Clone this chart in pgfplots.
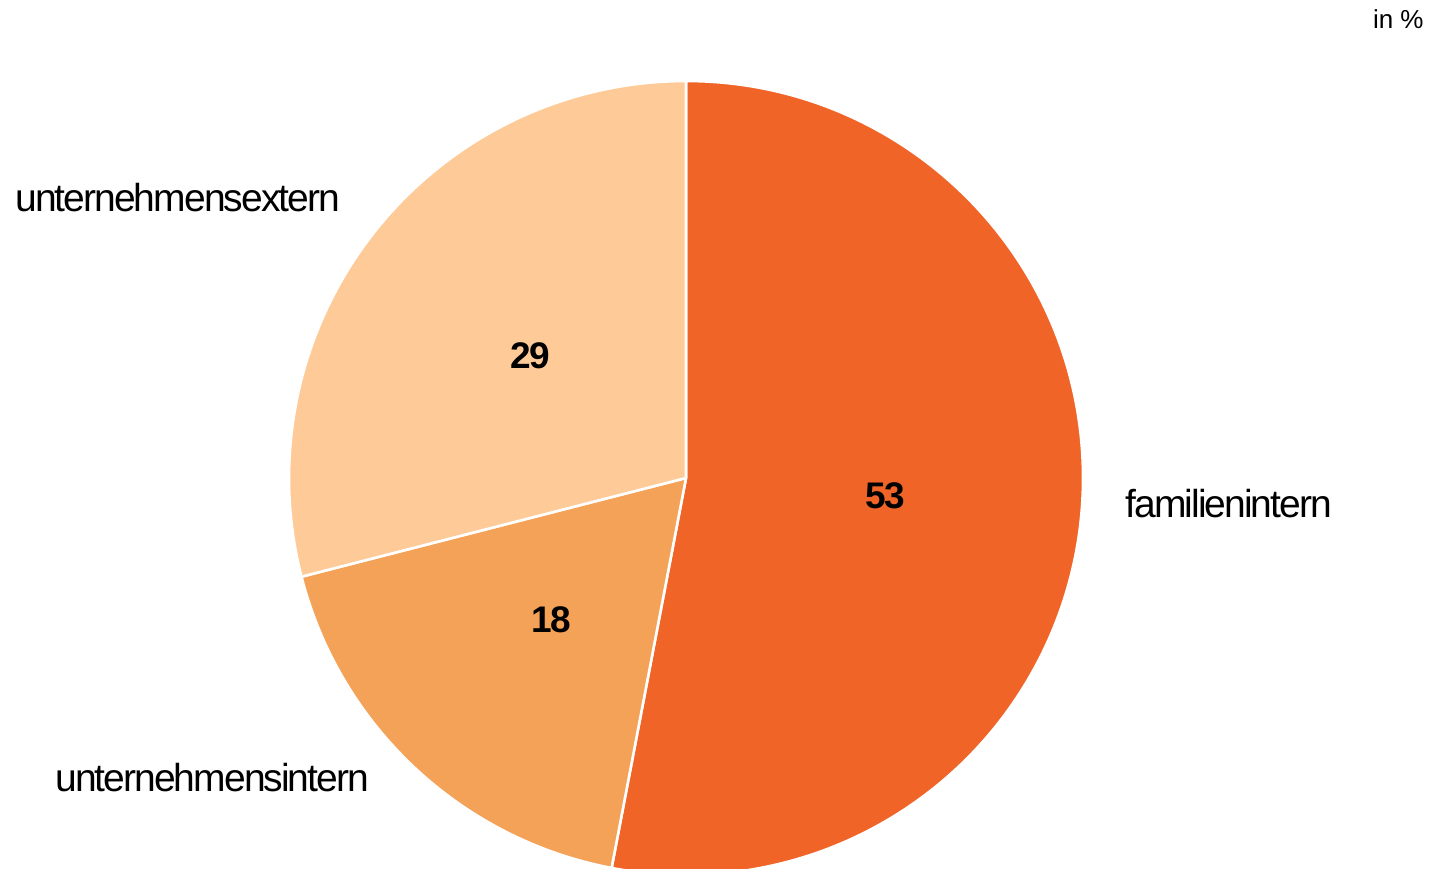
\documentclass[border=0pt]{standalone}
\usepackage{pgfplots}
\pgfplotsset{compat=1.18}
\usepackage{fontspec}
\setmainfont{Liberation Sans}
\definecolor{cA}{RGB}{240,100,40}
\definecolor{cB}{RGB}{244,162,88}
\definecolor{cC}{RGB}{254,202,152}
\newcommand\lab{\fontsize{19.5bp}{22bp}\selectfont\addfontfeature{LetterSpace=-5}}
\newcommand\num{\fontsize{18.5bp}{22bp}\selectfont\bfseries\addfontfeature{LetterSpace=-4}}
\begin{document}
\begin{tikzpicture}
% shares in percent: familienintern, unternehmensintern, unternehmensextern
\def\vA{53}\def\vB{18}\def\vC{29}
\pgfmathsetmacro\aA{90-3.6*\vA}
\pgfmathsetmacro\aB{\aA-3.6*\vB}
\pgfmathsetmacro\aC{\aB-3.6*\vC}
\begin{axis}[at={(0,0)},anchor=south west,scale only axis,
  width=717bp,height=434.5bp,xmin=0,xmax=1434,ymin=0,ymax=869,
  y dir=reverse,hide axis,clip=true]
\addplot[draw=none] coordinates {(0,0) (1434,869)};
\fill[cA,draw=white,line width=1.3bp,line join=round] (axis cs:686,478) -- ++(90:198.5bp) arc[start angle=90,end angle=\aA,radius=198.5bp] -- cycle;
\fill[cB,draw=white,line width=1.3bp,line join=round] (axis cs:686,478) -- ++(\aA:198.5bp) arc[start angle=\aA,end angle=\aB,radius=198.5bp] -- cycle;
\fill[cC,draw=white,line width=1.3bp,line join=round] (axis cs:686,478) -- ++(\aB:198.5bp) arc[start angle=\aB,end angle=\aC,radius=198.5bp] -- cycle;
\node[inner sep=0pt] at (axis cs:885,496) {\num \vA};
\node[inner sep=0pt] at (axis cs:551,620) {\num \vB};
\node[inner sep=0pt] at (axis cs:530,356) {\num \vC};
\node[inner sep=0pt,anchor=base west] at (axis cs:1125,517) {\lab familienintern};
\node[inner sep=0pt,anchor=base west] at (axis cs:55,791) {\lab unternehmensintern};
\node[inner sep=0pt,anchor=base west] at (axis cs:15,211) {\lab unternehmensextern};
\node[inner sep=0pt,anchor=base east] at (axis cs:1424,29) {\fontsize{13bp}{15bp}\selectfont in \%};
\end{axis}
\pgfresetboundingbox
\useasboundingbox (0,0) rectangle (717bp,434.5bp);
\end{tikzpicture}
\end{document}
